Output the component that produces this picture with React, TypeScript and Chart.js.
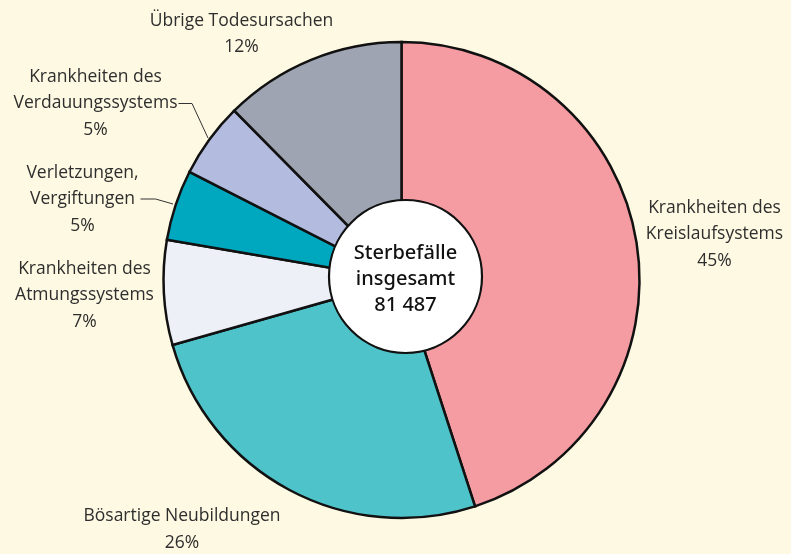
import React, { useEffect, useRef } from "react";
import { Chart, registerables } from "chart.js";

Chart.register(...registerables);

const categories = [
  ["Krankheiten des", "Kreislaufsystems"],
  ["Bösartige Neubildungen"],
  ["Krankheiten des", "Atmungssystems"],
  ["Verletzungen,", "Vergiftungen"],
  ["Krankheiten des", "Verdauungssystems"],
  ["Übrige Todesursachen"],
];
const shares = [45.0, 25.6, 7.1, 4.8, 5.1, 12.4];
const colors = ["#f59ca2", "#4fc3ca", "#eef0f8", "#00a8bf", "#b3bbdf", "#9ea4b1"];
const centerLines = ["Sterbefälle", "insgesamt", "81 487"];

// label layout relative to pie centre (first line centre)
const labelOffsets = [
  [313, -72],
  [-219.5, 236.5],
  [-317, -11],
  [-319, -107],
  [-306, -203],
  [-160, -259],
];
const leaderLines: Record<number, number[][]> = {
  3: [[-261, -81], [-246, -81], [-228.5, -76]],
  4: [[-223, -176.5], [-209.5, -176.5], [-193.5, -142]],
};

const BG = "#fef9e2";
const FONT = "'Open Sans', 'Noto Sans', sans-serif";
const CENTER_FONT = "'Noto Sans', 'Open Sans', sans-serif";

const overlay = {
  id: "overlay",
  afterDatasetsDraw(chart: any) {
    const meta = chart.getDatasetMeta(0);
    const arc = meta.data[0];
    const cx = arc.x;
    const cy = arc.y;
    const ctx = chart.ctx;
    ctx.save();
    // centre disc
    ctx.beginPath();
    ctx.arc(cx + 4, cy - 3.5, 76.5, 0, Math.PI * 2);
    ctx.fillStyle = "#ffffff";
    ctx.fill();
    ctx.lineWidth = 2.2;
    ctx.strokeStyle = "#111111";
    ctx.stroke();
    ctx.fillStyle = "#111111";
    ctx.font = `500 20px ${CENTER_FONT}`;
    ctx.textAlign = "center";
    ctx.textBaseline = "middle";
    centerLines.forEach((t, i) => {
      ctx.fillText(t, cx + 4, cy - 27 + i * 26);
    });
    // labels
    ctx.font = `400 17.5px ${FONT}`;
    ctx.fillStyle = "#2e2e2e";
    categories.forEach((lines, i) => {
      const [dx, dy] = labelOffsets[i];
      const all = [...lines, Math.round(shares[i]) + "%"];
      all.forEach((t, j) => {
        ctx.fillText(t, cx + dx, cy + dy + j * 26.5);
      });
    });
    ctx.strokeStyle = "#333333";
    ctx.lineWidth = 1;
    Object.keys(leaderLines).forEach((k) => {
      const pts = leaderLines[+k];
      ctx.beginPath();
      pts.forEach(([x, y], j) => {
        if (j === 0) ctx.moveTo(cx + x, cy + y);
        else ctx.lineTo(cx + x, cy + y);
      });
      ctx.stroke();
    });
    ctx.restore();
  },
};

export default function App() {
  const ref = useRef<HTMLCanvasElement>(null);
  useEffect(() => {
    document.body.style.margin = "0";
    const chart = new Chart(ref.current!, {
      type: "pie",
      data: {
        labels: categories.map((c) => c.join(" ")),
        datasets: [
          {
            data: shares,
            backgroundColor: colors,
            borderColor: "#111111",
            borderWidth: 2.5,
            borderJoinStyle: "miter",
          },
        ],
      },
      options: {
        animation: false,
        responsive: false,
        radius: 238,
        layout: { padding: { left: 12, right: 0, top: 6, bottom: 0 } },
        plugins: { legend: { display: false }, tooltip: { enabled: false } },
      } as any,
      plugins: [overlay],
    });
    return () => chart.destroy();
  }, []);
  return (
    <div style={{ width: 791, height: 554, background: BG }}>
      <canvas ref={ref} width={791} height={554} />
    </div>
  );
}
